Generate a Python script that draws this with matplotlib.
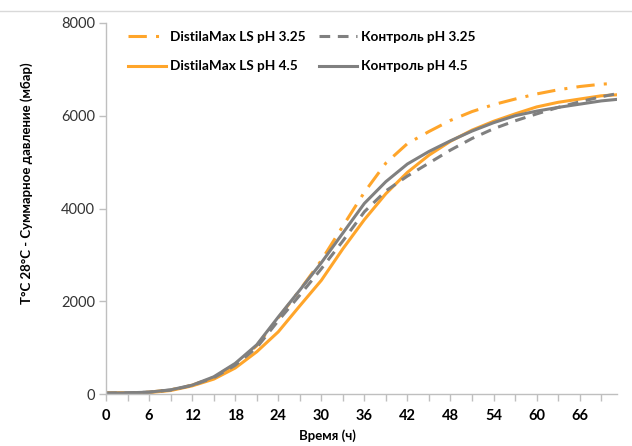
import matplotlib
matplotlib.use('Agg')
import matplotlib.pyplot as plt
from matplotlib.lines import Line2D
from matplotlib.ticker import MultipleLocator

plt.rcParams['font.family'] = ['Lato', 'DejaVu Sans']

ORANGE, GRAY, AXIS_CLR = '#FFA52A', '#808080', '#BFBFBF'

hours = [0, 3, 6, 9, 12, 15, 18, 21, 24, 27, 30, 33, 36, 39, 42, 45, 48, 51, 54, 57, 60, 63, 66, 69, 71]
dm_325 = [20, 25, 40, 90, 190, 360, 640, 1040, 1640, 2240, 2880, 3620, 4350, 4980, 5400, 5660,
          5900, 6090, 6240, 6360, 6470, 6560, 6630, 6680, 6700]
ctrl_325 = [20, 25, 40, 85, 185, 350, 620, 1000, 1580, 2130, 2700, 3300, 3930, 4380, 4700, 4980,
            5260, 5510, 5720, 5890, 6040, 6180, 6300, 6410, 6470]
dm_45 = [20, 20, 30, 75, 175, 320, 560, 910, 1340, 1900, 2450, 3130, 3760, 4320, 4780, 5150,
         5450, 5690, 5880, 6040, 6190, 6290, 6360, 6430, 6450]
ctrl_45 = [20, 25, 40, 90, 190, 370, 660, 1060, 1660, 2240, 2830, 3470, 4110, 4580, 4960, 5230,
           5460, 5670, 5850, 6000, 6100, 6180, 6250, 6320, 6350]

fig = plt.figure(figsize=(6.32, 4.46), dpi=100)
ax = fig.add_axes([106 / 632, 52 / 446, 511 / 632, 371 / 446])

lw = 2.2
ax.plot(hours, dm_325, color=ORANGE, lw=lw, ls=(0, (6, 3, 1, 3)), label='DistilaMax LS pH 3.25')
ax.plot(hours, dm_45, color=ORANGE, lw=lw, label='DistilaMax LS pH 4.5')
ax.plot(hours, ctrl_325, color=GRAY, lw=lw, ls=(0, (3.5, 2.5)), label='Контроль pH 3.25')
ax.plot(hours, ctrl_45, color=GRAY, lw=lw, label='Контроль pH 4.5')

ax.set_xlim(0, 71.2)
ax.set_ylim(0, 8000)
ax.xaxis.set_major_locator(MultipleLocator(6))
ax.xaxis.set_minor_locator(MultipleLocator(3))
ax.yaxis.set_major_locator(MultipleLocator(2000))

for s in ('top', 'right'):
    ax.spines[s].set_visible(False)
for s in ('left', 'bottom'):
    ax.spines[s].set_color(AXIS_CLR)
    ax.spines[s].set_linewidth(1.0)
ax.tick_params(axis='both', which='both', color=AXIS_CLR, direction='out', length=5, width=1.0)
ax.tick_params(axis='y', labelsize=10.5, pad=3, labelcolor='#333333')
ax.tick_params(axis='x', labelsize=10.5, pad=6)
for t in ax.get_xticklabels():
    t.set_fontweight('bold')

ax.set_xlabel('Время (ч)', fontsize=9.5, fontweight='bold')
ax.xaxis.set_label_coords((327 - 106) / 511, -0.095)
ax.set_ylabel('T°C 28°C - Суммарное давление (мбар)', fontsize=9.5, fontweight='bold')
ax.yaxis.set_label_coords(-0.142, (394 - 183) / 371)

# легенда в две колонки сверху
leg = ax.legend(ncol=2, loc='upper left', bbox_to_anchor=(0.02, 1.012), frameon=False,
                fontsize=9.8, handlelength=2.75, handletextpad=0.3, columnspacing=1.0,
                labelspacing=1.3)
for t in leg.get_texts():
    t.set_fontweight('bold')

fig.add_artist(Line2D([0, 1], [1 - 11 / 446, 1 - 11 / 446], color='#D9D9D9', lw=1.0))

fig.savefig('out.png', dpi=100, facecolor='white')
